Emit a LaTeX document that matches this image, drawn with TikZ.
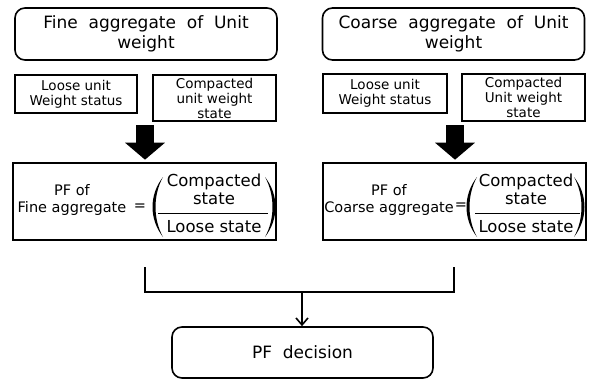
\documentclass[tikz,border=0pt]{standalone}
\usepackage{fontspec}
\setmainfont{DejaVu Sans}
\newfontfamily\widefont{DejaVu Sans}[WordSpace=2.0]
\usetikzlibrary{arrows.meta}

\begin{document}
\begin{tikzpicture}
  [x=1pt,y=-1pt,
   titlebox/.style={draw,line width=1.6pt,rounded corners=10pt,align=center,inner sep=0pt,
     minimum width=262pt,minimum height=52pt,font=\widefont\fontsize{17}{20}\selectfont},
   statebox/.style={draw,line width=1.4pt,align=center,inner sep=0pt,font=\fontsize{13.5}{15}\selectfont},
   pfbox/.style={draw,line width=1.6pt,minimum width=263pt,minimum height=77pt,inner sep=0pt},
   lhs/.style={align=center,inner sep=0pt,font=\fontsize{14.5}{17}\selectfont},
   ratio/.style={align=center,inner sep=0pt,font=\fontsize{16.5}{18}\selectfont},
   block/.style={line width=18pt,-{Triangle[length=17pt,width=39pt]}},
   link/.style={line width=1.6pt}]
  \useasboundingbox (0,0) rectangle (589,380);

  % top row
  \node[titlebox] (fineT) at (146,34) {Fine aggregate of Unit\\weight};
  \node[titlebox] (coarseT) at (453.5,34) {Coarse aggregate of Unit\\weight};

  \node[statebox,minimum width=122pt,minimum height=38pt] (fineL) at (76,94) {Loose unit\\Weight status};
  \node[statebox,minimum width=123pt,minimum height=46pt] (fineC) at (214.5,98) {Compacted\\unit weight\\state};
  \node[statebox,minimum width=124pt,minimum height=39pt] (coarseL) at (385,93.5) {Loose unit\\Weight status};
  \node[statebox,minimum width=123pt,minimum height=47pt] (coarseC) at (523.5,97.5) {Compacted\\Unit weight\\state};

  % formula boxes
  \node[pfbox] (fineP) at (144.5,201.5) {};
  \node[pfbox] (coarseP) at (454.5,201.5) {};

  \coordinate (fineA) at (145,125);
  \coordinate (coarseA) at (455,125);
  \foreach \from/\to in {fineA/fineP,coarseA/coarseP}
    \draw[block,shorten >=2.5pt] (\from) -- (\from |- \to.north);

  \node[lhs] (fineE) at (72,200) {PF of\\Fine aggregate};
  \node[lhs] (fineEq) at (140,207) {=};
  \node[ratio] (fineN) at (214,189) {Compacted\\state};
  \node[ratio] (fineD) at (214,227) {Loose state};
  \draw[line width=0.8pt] (158,213) -- (268,213);
  \fill (163,177) .. controls (149,195) and (149,219) .. (163,237)
        .. controls (153,219) and (153,195) .. (163,177);
  \fill (265,177) .. controls (279,195) and (279,219) .. (265,237)
        .. controls (275,219) and (275,195) .. (265,177);

  \node[lhs] (coarseE) at (389,200) {PF of\\Coarse aggregate};
  \node[lhs] (coarseEq) at (461,206) {=};
  \node[ratio] (coarseN) at (526,189) {Compacted\\state};
  \node[ratio] (coarseD) at (526,227) {Loose state};
  \draw[line width=0.8pt] (475,213) -- (580,213);
  \fill (477,177) .. controls (463,195) and (463,219) .. (477,237)
        .. controls (467,219) and (467,195) .. (477,177);
  \fill (574,177) .. controls (588,195) and (588,219) .. (574,237)
        .. controls (584,219) and (584,195) .. (574,177);

  % decision
  \node[titlebox,minimum width=261pt,minimum height=51pt] (pf) at (302.5,352.5) {PF decision};
  \coordinate (fineB) at (145,267);
  \coordinate (coarseB) at (454,267);
  \coordinate (join) at (302,292);
  \draw[link] (fineB) |- (join) -| (coarseB);
  \draw[link,-{Straight Barb[length=7pt,width=12pt]}] (join) -- (join |- pf.north);

\end{tikzpicture}
\end{document}
